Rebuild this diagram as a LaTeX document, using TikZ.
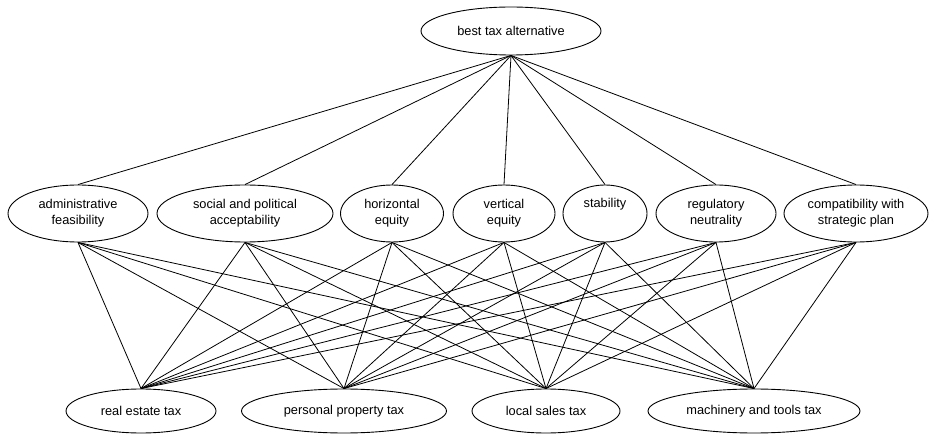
\documentclass[tikz,border=0pt]{standalone}
\usepackage{fontspec}
\setmainfont{Liberation Sans}
\usetikzlibrary{shapes.geometric}
\begin{document}
\begin{tikzpicture}[x=1pt,y=-1pt,
  el/.style={draw, ellipse, line width=0.9pt, inner sep=0pt, align=center,
    font=\fontsize{12.8}{16}\selectfont},
  ln/.style={line width=0.8pt}]
\useasboundingbox (0,0) rectangle (931,435);
% top
\node[el, minimum width=180pt, minimum height=48pt] (top) at (511,31) {best tax alternative};
% criteria
\node[el, minimum width=140pt, minimum height=57pt] (c1) at (78,213.5) {administrative\\feasibility};
\node[el, minimum width=176pt, minimum height=57pt] (c2) at (245,213.5) {social and political\\acceptability};
\node[el, minimum width=103pt, minimum height=57pt] (c3) at (392,213.5) {horizontal\\equity};
\node[el, minimum width=102pt, minimum height=57pt] (c4) at (504,213.5) {vertical\\equity};
\node[el, minimum width=84pt, minimum height=57pt] (c5) at (605,213.5) {stability\\\strut};
\node[el, minimum width=120pt, minimum height=57pt] (c6) at (716,213.5) {regulatory\\neutrality};
\node[el, minimum width=144pt, minimum height=57pt] (c7) at (856,213.5) {compatibility with\\strategic plan};
% alternatives
\node[el, minimum width=150pt, minimum height=44pt] (a1) at (141,411) {real estate tax};
\node[el, minimum width=205pt, minimum height=44pt] (a2) at (344,411) {personal property tax};
\node[el, minimum width=148pt, minimum height=44pt] (a3) at (546,411) {local sales tax};
\node[el, minimum width=212pt, minimum height=44pt] (a4) at (754,411) {machinery and tools tax};
% connectors
\foreach \c in {c1,c2,c3,c4,c5,c6,c7}{
  \draw[ln] (top.south) -- (\c.north);
  \foreach \a in {a1,a2,a3,a4}{
    \draw[ln] (\c.south) -- (\a.north);
  }
}
\end{tikzpicture}
\end{document}
